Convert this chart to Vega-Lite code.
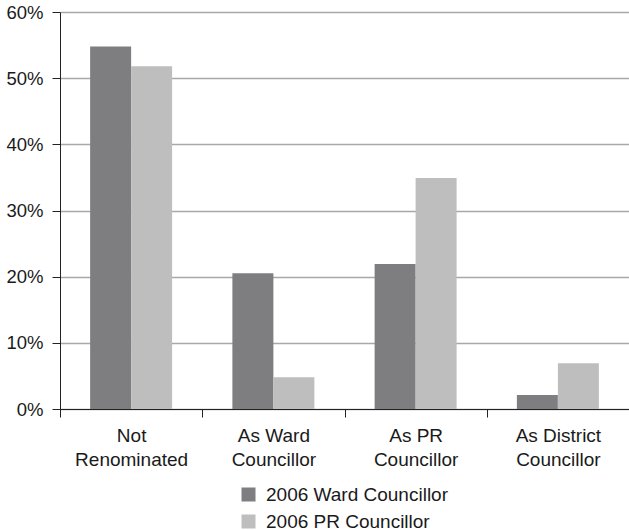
{
  "$schema": "https://vega.github.io/schema/vega-lite/v6.json",
  "autosize": {"type": "none"},
  "padding": {"left": 60, "top": 12, "right": 0, "bottom": 121},
  "width": 569,
  "height": 397,
  "background": "white",
  "config": {
    "view": {"stroke": null},
    "font": "Liberation Sans",
    "axis": {"labelFont": "Liberation Sans", "labelColor": "#1a1a1a", "labelFontSize": 19}
  },
  "data": {
    "values": [
      {"category": "Not Renominated", "series": "2006 Ward Councillor", "value": 0.548},
      {"category": "Not Renominated", "series": "2006 PR Councillor", "value": 0.518},
      {"category": "As Ward Councillor", "series": "2006 Ward Councillor", "value": 0.205},
      {"category": "As Ward Councillor", "series": "2006 PR Councillor", "value": 0.048},
      {"category": "As PR Councillor", "series": "2006 Ward Councillor", "value": 0.219},
      {"category": "As PR Councillor", "series": "2006 PR Councillor", "value": 0.349},
      {"category": "As District Councillor", "series": "2006 Ward Councillor", "value": 0.021},
      {"category": "As District Councillor", "series": "2006 PR Councillor", "value": 0.069}
    ]
  },
  "mark": {"type": "bar"},
  "encoding": {
    "x": {
      "field": "category",
      "type": "nominal",
      "sort": ["Not Renominated", "As Ward Councillor", "As PR Councillor", "As District Councillor"],
      "scale": {"paddingInner": 0, "paddingOuter": 0},
      "axis": {
        "title": null,
        "labelAngle": 0,
        "tickBand": "extent",
        "tickSize": 8,
        "tickColor": "#222",
        "domainColor": "#222",
        "labelPadding": 9,
        "labelLineHeight": 24,
        "labelExpr": "!datum.label ? '' : (datum.label == 'Not Renominated' ? ['Not', 'Renominated'] : [replace(datum.label, ' Councillor', ''), 'Councillor'])"
      }
    },
    "xOffset": {
      "field": "series",
      "type": "nominal",
      "sort": ["2006 Ward Councillor", "2006 PR Councillor"],
      "scale": {"paddingInner": 0, "paddingOuter": 0.735}
    },
    "y": {
      "field": "value",
      "type": "quantitative",
      "scale": {"domain": [0, 0.6]},
      "axis": {
        "title": null,
        "format": ".0%",
        "values": [0, 0.1, 0.2, 0.3, 0.4, 0.5, 0.6],
        "labelOverlap": false,
        "labelFontSize": 18.5,
        "tickSize": 8,
        "tickColor": "#222",
        "domainColor": "#222",
        "labelPadding": 9,
        "grid": true,
        "gridColor": "#a8a8a8",
        "gridWidth": 1.5
      }
    },
    "color": {
      "field": "series",
      "type": "nominal",
      "sort": ["2006 Ward Councillor", "2006 PR Councillor"],
      "scale": {"range": ["#7e7e81", "#bebebf"]},
      "legend": {
        "title": null,
        "orient": "none",
        "legendX": 179,
        "legendY": 473,
        "symbolType": "square",
        "symbolSize": 196,
        "symbolStrokeWidth": 0,
        "labelFontSize": 19,
        "labelLimit": 400,
        "labelFont": "Liberation Sans",
        "labelColor": "#1a1a1a",
        "rowPadding": 7,
        "labelOffset": 8
      }
    }
  }
}
